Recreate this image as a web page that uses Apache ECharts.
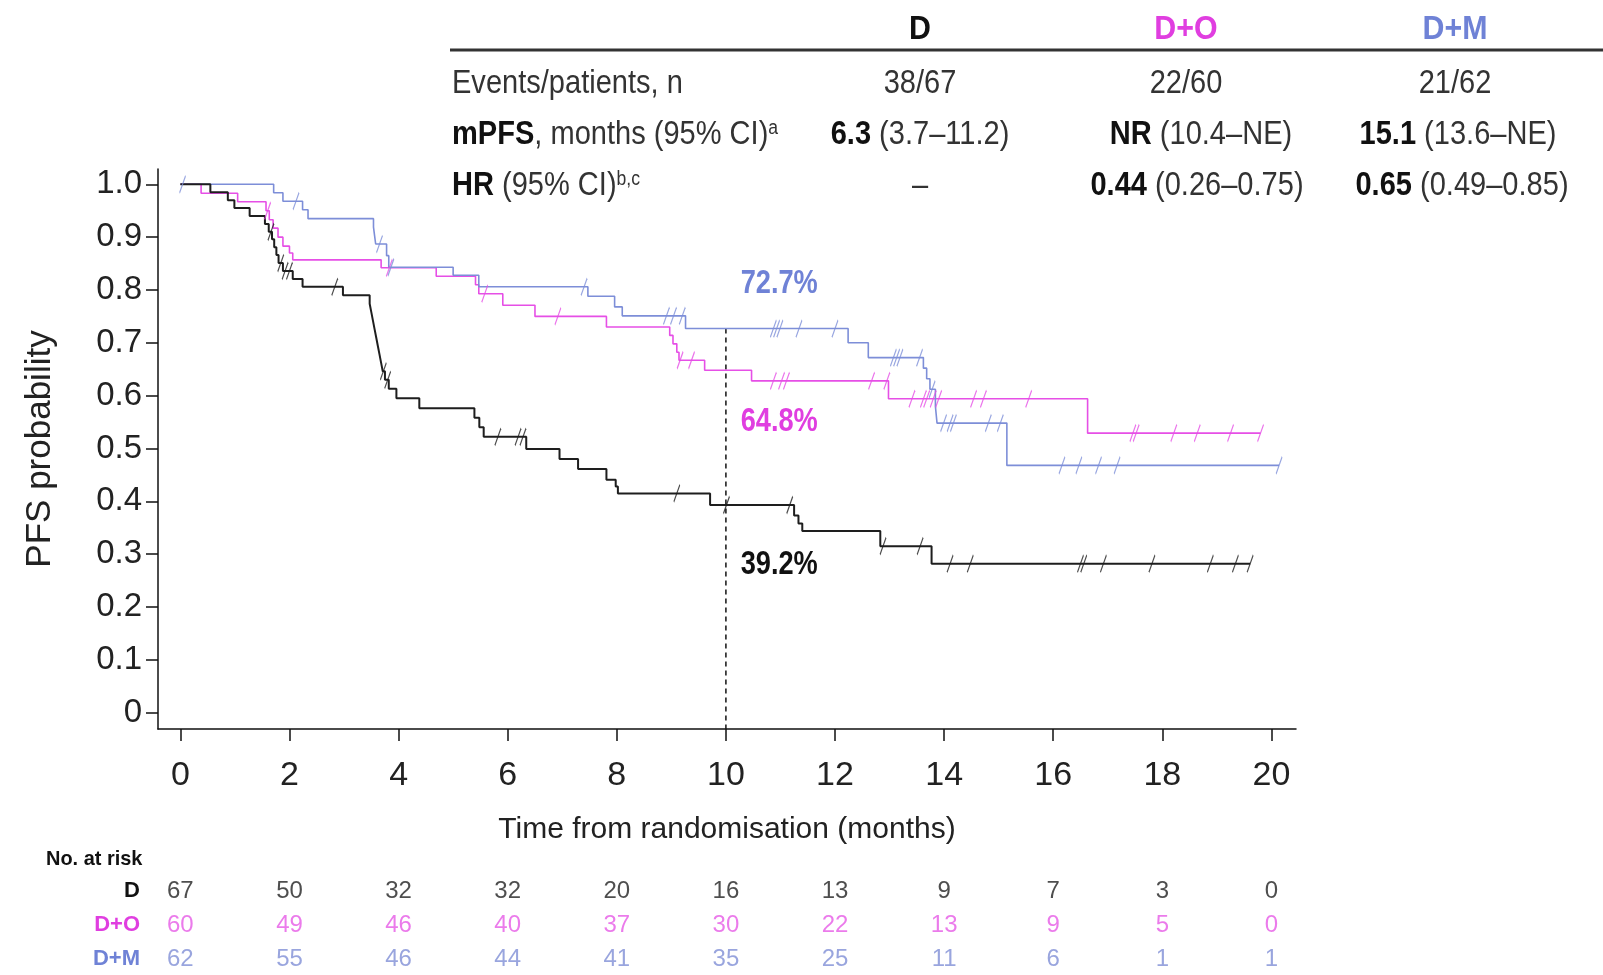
<!DOCTYPE html>
<html><head><meta charset="utf-8">
<script src="https://cdn.jsdelivr.net/npm/echarts@6/dist/echarts.min.js"></script>
<style>html,body{margin:0;padding:0;background:#fff}#c{width:1603px;height:975px}</style>
</head><body><div id="c"></div>
<script>
const FONT = '"Liberation Sans Narrow","Arial Narrow","Liberation Sans",Arial,sans-serif';
const groups = ['D', 'D+O', 'D+M'];
const colD = '#1e1e1e', colDO = '#e64fe6', colDM = '#7d8ed8';
const txtDO = '#e03ee0', txtDM = '#6f82d6';

// ---- Kaplan-Meier curves (time in months, survival after event) ----
const dTime = [0, 0.55, 0.87, 0.99, 1.27, 1.55, 1.62, 1.68, 1.72, 1.76, 1.80, 1.88, 2.06, 2.24, 2.98, 3.47, 3.50, 3.53, 3.56, 3.59, 3.62, 3.65, 3.68, 3.71, 3.75, 3.82, 3.96, 4.38, 5.39, 5.48, 5.56, 6.34, 6.95, 7.29, 7.81, 7.98, 8.02, 9.71, 11.25, 11.33, 11.40, 12.83, 13.77, 19.61];
const dSurv = [1, 0.985, 0.970, 0.955, 0.940, 0.925, 0.910, 0.896, 0.881, 0.866, 0.851, 0.836, 0.821, 0.806, 0.790, 0.774, 0.758, 0.742, 0.726, 0.710, 0.694, 0.678, 0.662, 0.646, 0.630, 0.613, 0.595, 0.576, 0.558, 0.540, 0.522, 0.499, 0.480, 0.461, 0.441, 0.428, 0.415, 0.393, 0.373, 0.358, 0.344, 0.315, 0.282, 0.282];
const dCens = [1.66, 1.84, 1.92, 2.00, 2.83, 3.72, 3.80, 5.82, 6.19, 6.28, 9.10, 10.01, 11.17, 12.88, 13.56, 14.11, 14.48, 16.50, 16.56, 16.92, 17.81, 18.88, 19.34, 19.61];

const doTime = [0, 0.38, 1.05, 1.57, 1.63, 1.70, 1.79, 1.88, 2.00, 2.06, 3.68, 4.69, 5.41, 5.47, 5.91, 6.50, 7.81, 8.97, 9.03, 9.10, 9.14, 9.61, 10.47, 12.98, 16.63, 19.80];
const doSurv = [1, 0.983, 0.967, 0.950, 0.933, 0.917, 0.900, 0.883, 0.870, 0.857, 0.842, 0.826, 0.810, 0.793, 0.771, 0.750, 0.730, 0.714, 0.698, 0.682, 0.667, 0.648, 0.628, 0.594, 0.529, 0.529];
const doCens = [1.60, 3.83, 5.58, 6.92, 9.16, 9.37, 10.87, 11.02, 11.11, 12.67, 12.95, 13.41, 13.62, 13.68, 13.80, 13.90, 14.54, 14.72, 15.55, 17.46, 17.52, 18.21, 18.64, 19.25, 19.80];

const dmTime = [0, 1.71, 1.88, 2.24, 2.34, 3.54, 3.56, 3.58, 3.78, 3.82, 5.00, 5.47, 7.47, 7.96, 8.10, 9.26, 12.24, 12.61, 13.62, 13.68, 13.74, 13.84, 13.87, 15.15, 20.14];
const dmSurv = [1, 0.984, 0.968, 0.952, 0.935, 0.919, 0.903, 0.887, 0.865, 0.843, 0.828, 0.806, 0.788, 0.768, 0.751, 0.727, 0.700, 0.672, 0.652, 0.632, 0.612, 0.580, 0.548, 0.468, 0.468];
const dmCens = [0.04, 2.12, 3.65, 3.86, 7.40, 8.91, 9.04, 9.20, 10.87, 10.93, 10.99, 11.34, 12.00, 13.07, 13.13, 13.19, 13.55, 13.78, 13.99, 14.11, 14.17, 14.81, 15.03, 16.16, 16.47, 16.83, 17.17, 20.14];

// ---- landmark at 10 months ----
const landmarkMonth = 10;
const landmarkTop = 0.727;
const landmarkLabels = ['72.7%', '64.8%', '39.2%'];

// ---- axes ----
const xTicks = [0, 2, 4, 6, 8, 10, 12, 14, 16, 18, 20];
const yTicks = [0, 0.1, 0.2, 0.3, 0.4, 0.5, 0.6, 0.7, 0.8, 0.9, 1.0];

// ---- number at risk ----
const riskMonths = [0, 2, 4, 6, 8, 10, 12, 14, 16, 18, 20];
const riskD = [67, 50, 32, 32, 20, 16, 13, 9, 7, 3, 0];
const riskDO = [60, 49, 46, 40, 37, 30, 22, 13, 9, 5, 0];
const riskDM = [62, 55, 46, 44, 41, 35, 25, 11, 6, 1, 1];

// ---- summary table ----
const tblEvents = ['38/67', '22/60', '21/62'];
const tblMpfsMain = ['6.3', 'NR', '15.1'];
const tblMpfsCI = [' (3.7\u201311.2)', ' (10.4\u2013NE)', ' (13.6\u2013NE)'];
const tblHrMain = ['\u2013', '0.44', '0.65'];
const tblHrCI = ['', ' (0.26\u20130.75)', ' (0.49\u20130.85)'];

function curve(t, s) { return t.map((v, i) => [v, s[i]]); }
function censPts(c, t, s) {
  return c.map(ct => {
    let v = s[0];
    for (let i = 0; i < t.length; i++) if (t[i] <= ct) v = s[i];
    return [ct, v];
  });
}

const XMIN = -0.41, XMAX = 20.45, YMIN = -0.031, YMAX = 1.029;
const slash = 'path://M0,16L6,0';

function kmLine(name, t, s, col, w) {
  return { name, type: 'line', step: 'end', data: curve(t, s), showSymbol: false, symbol: 'none',
    lineStyle: { color: col, width: w }, z: 3, silent: true, animation: false };
}
function kmCens(name, c, t, s, col) {
  return { name: name + ' cens', type: 'scatter', data: censPts(c, t, s), symbol: slash, symbolSize: [6, 17],
    itemStyle: { color: 'none', borderColor: col, borderWidth: 1.5 }, z: 4, silent: true, animation: false };
}
function riskSeries(name, vals, col) {
  return { name: 'risk ' + name, type: 'scatter', xAxisIndex: 1, yAxisIndex: 1,
    data: riskMonths.map((m, i) => [m, name, vals[i]]), symbolSize: 0, silent: true, animation: false,
    label: { show: true, position: 'inside', formatter: p => String(p.value[2]), color: col,
      fontFamily: FONT, fontSize: 24 } };
}

const SX = 0.88; // horizontal condensing of table text
const colX = [920, 1189, 1458];
function gtext(x, y, text, align, font, fill, sx) {
  return { type: 'text', x, y, scaleX: sx || SX, silent: true,
    style: { text, textAlign: align, textVerticalAlign: 'middle', fill: fill || '#333', font: font + ' ' + FONT } };
}
function richCell(x, y, a, b, align) {
  return { type: 'text', x, y, scaleX: SX, silent: true, style: {
    text: '{b|' + a + '}{n|' + b + '}', textAlign: align, textVerticalAlign: 'middle',
    rich: { b: { fontFamily: FONT, fontSize: 33, fontWeight: 'bold', fill: '#111' },
            n: { fontFamily: FONT, fontSize: 33, fill: '#333' } } } };
}
function richLabel(x, y, a, b, s) {
  return { type: 'text', x, y, scaleX: SX, silent: true, style: {
    text: '{b|' + a + '}{n|' + b + '}{s|' + s + '}', textAlign: 'left', textVerticalAlign: 'middle',
    rich: { b: { fontFamily: FONT, fontSize: 33, fontWeight: 'bold', fill: '#111' },
            n: { fontFamily: FONT, fontSize: 33, fill: '#333' },
            s: { fontFamily: FONT, fontSize: 20, fill: '#333', verticalAlign: 'top' } } } };
}

const graphics = [];
// header
graphics.push(gtext(colX[0], 30, 'D', 'center', 'bold 33px', '#111', 0.92));
graphics.push(gtext(colX[1] - 3, 30, 'D+O', 'center', 'bold 33px', txtDO, 0.92));
graphics.push(gtext(colX[2] - 3, 30, 'D+M', 'center', 'bold 33px', txtDM, 0.92));
graphics.push({ type: 'line', silent: true, shape: { x1: 450, y1: 50, x2: 1603, y2: 50 }, style: { stroke: '#333', lineWidth: 3 } });
// row 1
graphics.push(gtext(452, 84, 'Events/patients, n', 'left', '33px'));
tblEvents.forEach((v, i) => graphics.push(gtext(colX[i] - (i ? 3 : 0), 84, v, 'center', '33px')));
// row 2
graphics.push(richLabel(452, 135, 'mPFS', ', months (95% CI)', 'a'));
tblMpfsMain.forEach((v, i) => graphics.push(richCell(colX[i] + (i === 1 ? 12 : 0), 135, v, tblMpfsCI[i], 'center')));
// row 3
graphics.push(richLabel(452, 186, 'HR', ' (95% CI)', 'b,c'));
graphics.push(gtext(colX[0], 186, tblHrMain[0], 'center', '33px'));
graphics.push(richCell(colX[1] + 8, 186, tblHrMain[1], tblHrCI[1], 'center'));
graphics.push(richCell(colX[2] + 4, 186, tblHrMain[2], tblHrCI[2], 'center'));
// no at risk
graphics.push(gtext(46, 859, 'No. at risk', 'left', 'bold 21px', '#111', 0.95));

const option = {
  backgroundColor: '#fff',
  animation: false,
  grid: [
    { left: 158, top: 169, width: 1138, height: 560 },
    { left: 158, top: 891, width: 1138, height: 68 }
  ],
  xAxis: [
    { type: 'value', gridIndex: 0, min: XMIN, max: XMAX,
      name: 'Time from randomisation (months)', nameLocation: 'middle', nameGap: 86,
      nameTextStyle: { fontFamily: FONT, fontSize: 30, color: '#222' },
      axisLine: { onZero: false, lineStyle: { color: '#111', width: 1.5 } },
      axisTick: { length: 12, lineStyle: { color: '#111', width: 1.5 }, customValues: xTicks },
      axisLabel: { customValues: xTicks, margin: 30, fontFamily: FONT, fontSize: 34, color: '#222' },
      splitLine: { show: false } },
    { type: 'value', gridIndex: 1, min: XMIN, max: XMAX, show: false }
  ],
  yAxis: [
    { type: 'value', gridIndex: 0, min: YMIN, max: YMAX,
      name: 'PFS probability', nameLocation: 'middle', nameGap: 100,
      nameTextStyle: { fontFamily: FONT, fontSize: 35, color: '#222' },
      axisLine: { onZero: false, lineStyle: { color: '#111', width: 1.5 } },
      axisTick: { length: 12, lineStyle: { color: '#111', width: 1.5 }, customValues: yTicks },
      axisLabel: { customValues: yTicks, margin: 16, fontFamily: FONT, fontSize: 33, color: '#222',
        formatter: v => (Math.abs(v) < 1e-9 ? '0' : v.toFixed(1)) },
      splitLine: { show: false } },
    { type: 'category', gridIndex: 1, data: groups, inverse: true, boundaryGap: false,
      axisLine: { show: false }, axisTick: { show: false }, splitLine: { show: false },
      axisLabel: { margin: 18, fontFamily: FONT, fontSize: 22, fontWeight: 'bold',
        color: v => (v === 'D' ? '#111' : v === 'D+O' ? txtDO : txtDM) } }
  ],
  graphic: graphics,
  series: [
    { name: 'landmark', type: 'line', data: [[landmarkMonth, landmarkTop], [landmarkMonth, YMIN]], showSymbol: false,
      symbol: 'none', lineStyle: { color: '#111', width: 1.5, type: [5, 4] }, z: 2, silent: true },
    kmLine('D+O', doTime, doSurv, colDO, 1.6),
    kmLine('D+M', dmTime, dmSurv, colDM, 1.6),
    kmLine('D', dTime, dSurv, colD, 2),
    kmCens('D+O', doCens, doTime, doSurv, colDO),
    kmCens('D+M', dmCens, dmTime, dmSurv, colDM),
    kmCens('D', dCens, dTime, dSurv, colD),
    riskSeries('D', riskD, '#222'),
    riskSeries('D+O', riskDO, '#e65ae6'),
    riskSeries('D+M', riskDM, '#7f8fd6')
  ]
};
const chart = echarts.init(document.getElementById('c'), null, { renderer: 'canvas' });
chart.setOption(option);

// landmark percentage labels, placed through the chart's own scales
const pctAnchors = [[10.27, 0.812], [10.27, 0.551], [10.27, 0.281]];
const pctColors = [txtDM, txtDO, '#111'];
const pctGraphics = landmarkLabels.map((t, i) => {
  const p = chart.convertToPixel({ gridIndex: 0 }, pctAnchors[i]);
  return { type: 'text', x: p[0], y: p[1], scaleX: 0.8, silent: true, z: 10,
    style: { text: t, textAlign: 'left', textVerticalAlign: 'middle', fill: pctColors[i], font: 'bold 34px ' + FONT } };
});
chart.setOption({ graphic: graphics.concat(pctGraphics) });
</script></body></html>
